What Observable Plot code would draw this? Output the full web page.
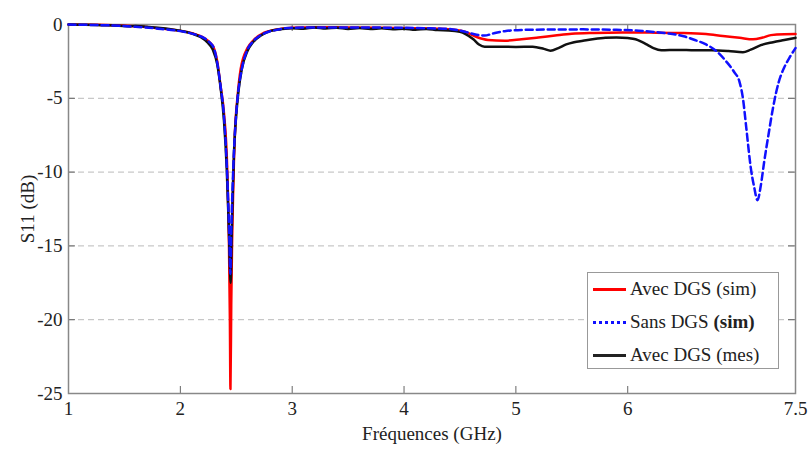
<!DOCTYPE html>
<html>
<head>
<meta charset="utf-8">
<script src="https://cdn.jsdelivr.net/npm/d3@7"></script>
<script src="https://cdn.jsdelivr.net/npm/@observablehq/plot@0.6"></script>
<style>
  body { margin: 0; background: white; }
  #wrap { position: relative; width: 808px; height: 450px; font-family: "Liberation Serif", "Times New Roman", Times, "DejaVu Serif", serif; }
  #legend { position: absolute; left: 587px; top: 272px; width: 192px; height: 97px; border: 1px solid #999; background: white; box-sizing: border-box; font-size: 19px; color: #222; }
  .row { position: absolute; left: 5px; height: 30px; display: flex; align-items: center; }
  .sw { width: 33px; height: 0; margin-right: 4px; }
  #chart svg { font-family: "Liberation Serif", "Times New Roman", Times, "DejaVu Serif", serif !important; }
</style>
</head>
<body>
<div id="wrap">
  <div id="chart"></div>
  <div id="legend">
    <div class="row" style="top:1px"><div class="sw" style="border-top:3px solid #ff0000"></div>Avec DGS (sim)</div>
    <div class="row" style="top:34px"><div class="sw" style="border-top:3px dotted #1010ff"></div>Sans DGS&nbsp;<b>(sim)</b></div>
    <div class="row" style="top:67px"><div class="sw" style="border-top:3px solid #222"></div>Avec DGS (mes)</div>
  </div>
</div>
<script>
// Tick values
const xTicks = [1, 2, 3, 4, 5, 6, 7.5];
const yTicks = [0, -5, -10, -15, -20, -25];
const gridY = [-5, -10, -15, -20];

// Avec DGS (sim) - red
const redF = [1.0,1.2,1.4,1.6,1.8,1.95,2.05,2.15,2.22,2.26,2.30,2.33,2.36,2.39,2.42,2.435,2.443,2.448,2.455,2.462,2.47,2.48,2.49,2.51,2.54,2.6,2.65,2.75,2.85,3.0,3.2,3.5,3.8,4.1,4.3,4.45,4.55,4.65,4.75,4.9,5.05,5.2,5.35,5.5,5.7,5.95,6.2,6.5,6.7,6.85,7.0,7.12,7.2,7.28,7.4,7.5];
const redS = [0,-0.02,-0.05,-0.12,-0.25,-0.38,-0.5,-0.7,-0.95,-1.2,-1.6,-2.5,-4.2,-6.0,-10,-15,-20,-24.7,-19,-15,-12,-9,-7,-5,-3.0,-1.6,-1.1,-0.55,-0.35,-0.22,-0.18,-0.2,-0.22,-0.25,-0.28,-0.35,-0.5,-0.85,-1.05,-1.1,-1.0,-0.88,-0.75,-0.63,-0.57,-0.54,-0.55,-0.58,-0.65,-0.78,-0.9,-1.0,-0.9,-0.72,-0.66,-0.65];

// Sans DGS (sim) - blue dashed
const blueF = [1.0,1.2,1.4,1.6,1.8,1.95,2.05,2.15,2.22,2.26,2.30,2.33,2.36,2.39,2.415,2.43,2.44,2.447,2.455,2.465,2.48,2.5,2.52,2.55,2.6,2.65,2.75,2.85,3.0,3.3,3.6,3.9,4.2,4.4,4.55,4.65,4.72,4.8,4.9,5.05,5.3,5.6,5.9,6.1,6.25,6.4,6.5,6.6,6.7,6.8,6.88,6.95,7.0,7.03,7.06,7.1,7.13,7.16,7.19,7.22,7.26,7.3,7.35,7.4,7.45,7.5];
const blueS = [0,-0.03,-0.07,-0.15,-0.28,-0.4,-0.52,-0.72,-0.95,-1.2,-1.6,-2.6,-4.2,-6.2,-9.5,-12.5,-15,-16.9,-14,-11.5,-8.5,-6,-4.4,-3.0,-1.7,-1.15,-0.6,-0.38,-0.22,-0.2,-0.2,-0.22,-0.25,-0.3,-0.5,-0.7,-0.75,-0.6,-0.45,-0.37,-0.34,-0.33,-0.36,-0.42,-0.52,-0.65,-0.8,-1.05,-1.35,-1.85,-2.5,-3.2,-3.9,-5.0,-7.0,-9.7,-11.0,-11.9,-10.9,-9.3,-7.4,-5.6,-3.9,-2.9,-2.2,-1.6];

// Avec DGS (mes) - black
const blackF = [1.0,1.15,1.3,1.45,1.55,1.6,1.7,1.8,1.9,2.0,2.1,2.18,2.24,2.29,2.33,2.36,2.39,2.415,2.43,2.44,2.45,2.458,2.468,2.48,2.5,2.52,2.55,2.6,2.65,2.72,2.8,2.9,3.0,3.1,3.2,3.3,3.4,3.5,3.6,3.7,3.8,3.9,4.0,4.1,4.2,4.3,4.4,4.5,4.55,4.62,4.67,4.72,4.85,5.0,5.15,5.25,5.31,5.38,5.45,5.52,5.6,5.7,5.8,5.9,6.0,6.07,6.13,6.18,6.23,6.3,6.45,6.6,6.75,6.9,7.03,7.1,7.19,7.3,7.4,7.5];
const blackS = [0,-0.02,-0.05,-0.08,-0.12,-0.1,-0.15,-0.22,-0.3,-0.42,-0.6,-0.85,-1.2,-1.7,-2.7,-4.3,-6.5,-9.8,-13,-15.5,-17.5,-14.5,-11.5,-8.6,-6.1,-4.5,-3.0,-1.8,-1.2,-0.75,-0.45,-0.32,-0.25,-0.28,-0.2,-0.27,-0.22,-0.3,-0.24,-0.3,-0.26,-0.32,-0.28,-0.35,-0.3,-0.38,-0.4,-0.5,-0.65,-1.0,-1.35,-1.5,-1.5,-1.52,-1.5,-1.65,-1.78,-1.6,-1.35,-1.2,-1.1,-0.98,-0.9,-0.88,-0.92,-1.0,-1.2,-1.4,-1.6,-1.75,-1.72,-1.75,-1.75,-1.8,-1.88,-1.7,-1.4,-1.2,-1.05,-0.9];

const toRows = (fs, vs) => fs.map((f, i) => ({f, v: vs[i]}));
const red = toRows(redF, redS);
const blue = toRows(blueF, blueS);
const black = toRows(blackF, blackS);

const W = 808, H = 450, mL = 68, mR = 13, mT = 24, mB = 57;
const iw = W - mL - mR, ih = H - mT - mB;

const chart = Plot.plot({
  width: W, height: H,
  marginLeft: mL, marginRight: mR, marginTop: mT, marginBottom: mB,
  style: {fontFamily: "Liberation Serif, Times New Roman, serif", fontSize: "19px", color: "#222", background: "white"},
  x: {domain: [1, 7.5]},
  y: {domain: [-25, 0]},
  marks: [
    Plot.ruleY(gridY, {stroke: "#bbb", strokeDasharray: "6,4"}),
    Plot.tickX(xTicks, {x: d => d, insetTop: ih - 7, stroke: "#666"}),
    Plot.tickX(xTicks, {x: d => d, insetBottom: ih - 7, stroke: "#666"}),
    Plot.tickY(yTicks, {y: d => d, insetRight: iw - 7, stroke: "#666"}),
    Plot.tickY(yTicks, {y: d => d, insetLeft: iw - 7, stroke: "#666"}),
    Plot.frame({stroke: "#888", strokeWidth: 1.5}),
    Plot.line(red, {x: "f", y: "v", stroke: "#ff0000", strokeWidth: 2.5, curve: "monotone-x"}),
    Plot.line(black, {x: "f", y: "v", stroke: "#111", strokeWidth: 2.5, curve: "monotone-x"}),
    Plot.line(blue, {x: "f", y: "v", stroke: "#1010ff", strokeWidth: 2.5, strokeDasharray: "7,4", curve: "monotone-x"}),
    Plot.axisX(xTicks, {tickSize: 0, tickPadding: 8, tickFormat: d => String(d), label: "Fréquences (GHz)", labelAnchor: "center", labelArrow: "none", labelOffset: 46}),
    Plot.axisY(yTicks, {tickSize: 0, tickPadding: 6, tickFormat: d => String(d), label: "S11 (dB)", labelAnchor: "center", labelArrow: "none", labelOffset: 48})
  ]
});
document.getElementById("chart").appendChild(chart);
</script>
</body>
</html>
